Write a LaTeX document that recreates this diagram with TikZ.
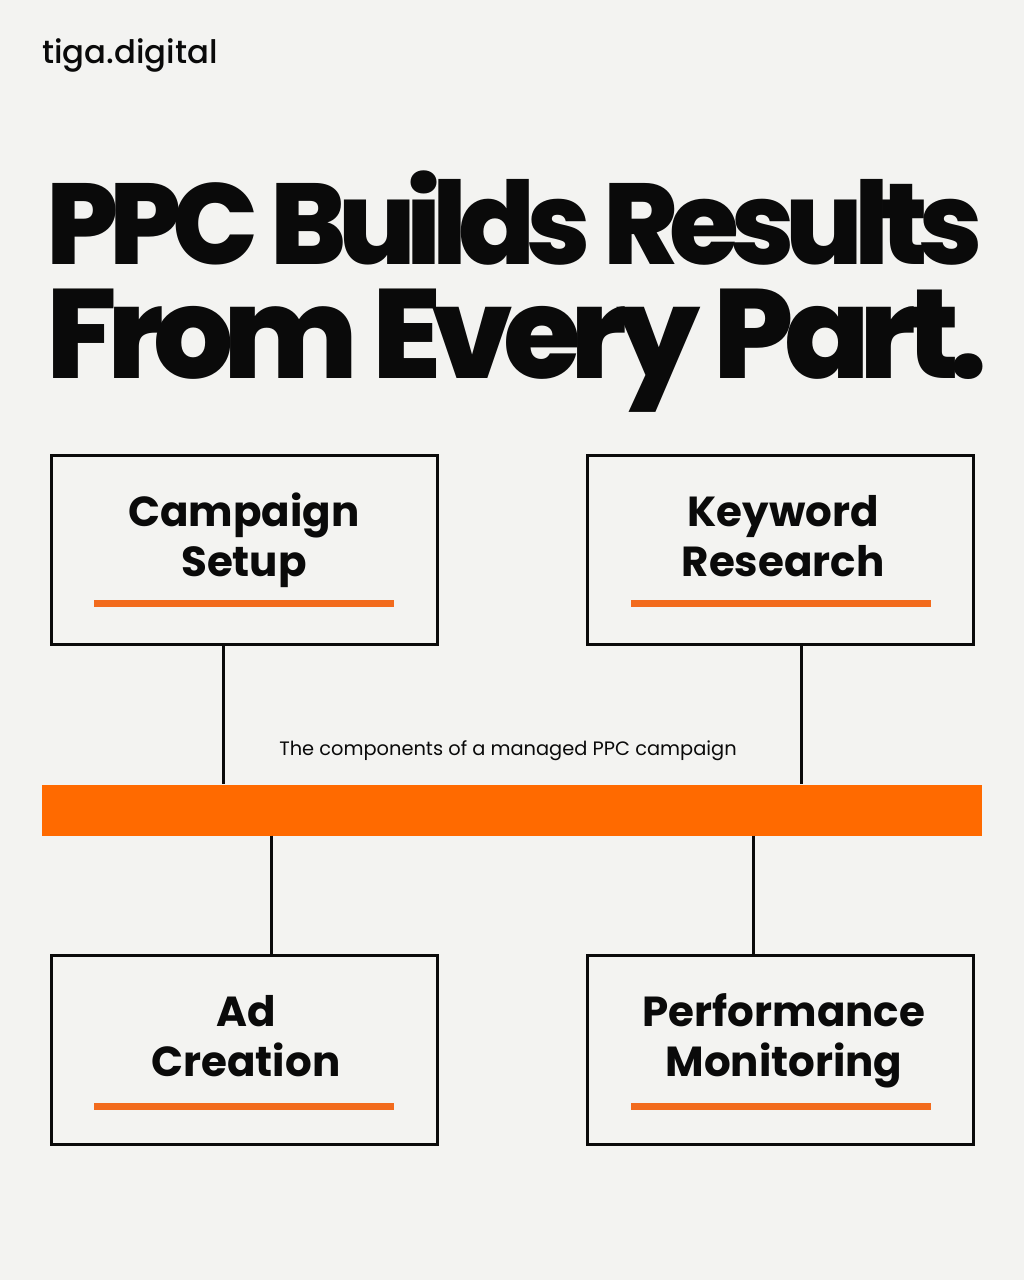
\documentclass[tikz,border=0pt]{standalone}
\usepackage{graphicx}
\usepackage{fontspec}
\setmainfont{Poppins}
\newfontfamily\popmed{Poppins Medium}
\newfontfamily\popxb{Poppins ExtraBold}[LetterSpace=-8]
\definecolor{bg}{HTML}{F3F3F1}
\definecolor{ink}{HTML}{0A0A0A}
\definecolor{orng}{HTML}{FF6A00}
\definecolor{uline}{HTML}{F26B1D}
\newlength\twa
\newlength\twb
\AtBeginDocument{%
  \settowidth\twa{\popxb\fontsize{115}{120}\selectfont PPC Builds Results}%
  \settowidth\twb{\popxb\fontsize{127}{130}\selectfont From Every Part.}%
}
\tikzset{
  box/.style={draw=ink, line width=3pt, minimum width=386pt, minimum height=189pt, inner sep=0pt},
  boxtext/.style={font=\fontsize{42}{50}\selectfont\bfseries, text=ink, anchor=base, inner sep=0pt},
  titletext/.style={anchor=base west, inner sep=0pt, text=ink},
  uln/.style={draw=uline, line width=6.5pt},
  conn/.style={draw=ink, line width=3pt},
}
\begin{document}
\begin{tikzpicture}[x=1pt,y=-1pt]
\pgfmathsetmacro\sxa{937/\twa}
\pgfmathsetmacro\sxb{941/\twb}
\fill[bg] (0,0) rectangle (1024,1280);
\useasboundingbox (0,0) rectangle (1024,1280);
% logo
\node[anchor=base west, inner sep=0pt, text=ink, font=\popmed\fontsize{32.3}{36}\selectfont] (logo) at (42,63) {tiga.digital};
% title
\node[titletext] (t1) at (46,264) {\scalebox{\sxa}[1]{\popxb\fontsize{115}{120}\selectfont PPC Builds Results}};
\node[titletext] (t2) at (46,378) {\scalebox{\sxb}[1]{\popxb\fontsize{127}{130}\selectfont From Every Part.}};
% boxes
\node[box] (b1) at (244,549.5) {};
\node[box] (b2) at (780,549.5) {};
\node[box] (b3) at (244,1049.5) {};
\node[box] (b4) at (780,1049.5) {};
% box texts
\node[boxtext] (b1a) at (244,526) {Campaign};
\node[boxtext] (b1b) at (244,576) {Setup};
\node[boxtext] (b2a) at (783,526) {Keyword};
\node[boxtext] (b2b) at (783,576) {Research};
\node[boxtext] (b3a) at (246,1026) {Ad};
\node[boxtext] (b3b) at (246,1076) {Creation};
\node[boxtext] (b4a) at (784,1026) {Performance};
\node[boxtext] (b4b) at (784,1076) {Monitoring};
% underlines
\draw[uln] (94,603.5) -- (394,603.5);
\draw[uln] (631,603.5) -- (931,603.5);
\draw[uln] (94,1106.5) -- (394,1106.5);
\draw[uln] (631,1106.5) -- (931,1106.5);
% bar
\node[fill=orng, minimum width=940pt, minimum height=51pt, inner sep=0pt] (bar) at (512,810) {};
% caption
\node[anchor=base, inner sep=0pt, text=ink, font=\fontsize{19.4}{22}\selectfont] (cap) at (508,755) {The components of a managed PPC campaign};
% connectors
\draw[conn] (b1.south -| 223,0) -- (bar.north -| 223,0);
\draw[conn] (b2.south -| 801,0) -- (bar.north -| 801,0);
\draw[conn] (bar.south -| 271,0) -- (b3.north -| 271,0);
\draw[conn] (bar.south -| 753,0) -- (b4.north -| 753,0);
\end{tikzpicture}
\end{document}
